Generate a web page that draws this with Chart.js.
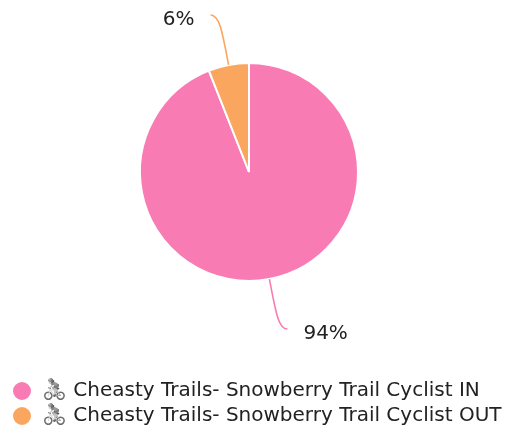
<!DOCTYPE html>
<html><head><meta charset="utf-8">
<style>html,body{margin:0;padding:0;background:#fff}#w{width:505px;height:428px;position:relative}</style>
<script src="https://cdn.jsdelivr.net/npm/chart.js@4"></script></head>
<body><div id="w"><canvas id="c"></canvas></div>
<script>
const categories = ["🚴 Cheasty Trails- Snowberry Trail Cyclist IN", "🚴 Cheasty Trails- Snowberry Trail Cyclist OUT"];
const values = [94, 6];
const pctLabels = ["94%", "6%"];
const colors = ["#F87CB3", "#FBA65E"];
const FONT = '"DejaVu Sans"';
const spacerHeight = 94;
const spacerWidth = 14;
const spacer = {
  id: 'spacer',
  beforeLayout(chart) {
    if (chart.$spacer) return;
    chart.$spacer = true;
    Chart.layouts.addBox(chart, { position: 'bottom', weight: 500, fullSize: false, options: {},
      isHorizontal: () => true,
      update(w) { this.width = w; this.height = spacerHeight; },
      draw() {} });
    Chart.layouts.addBox(chart, { position: 'right', weight: 500, fullSize: false, options: {},
      isHorizontal: () => false,
      update(w, h) { this.width = spacerWidth; this.height = h; },
      draw() {} });
  }
};
const monoEmoji = {
  id: 'monoEmoji',
  beforeDraw(chart) {
    const ctx = chart.ctx;
    if (ctx.$wrapped) return;
    ctx.$wrapped = true;
    const orig = ctx.fillText.bind(ctx);
    ctx.fillText = function (t, x, y, m) {
      const f = ctx.filter;
      if (String(t).includes('🚴')) ctx.filter = 'grayscale(1)';
      m === undefined ? orig(t, x, y) : orig(t, x, y, m);
      ctx.filter = f;
    };
  }
};
const leaders = {
  id: 'leaders',
  afterDatasetsDraw(chart) {
    const ctx = chart.ctx;
    chart.getDatasetMeta(0).data.forEach((arc, i) => {
      const mid = (arc.startAngle + arc.endAngle) / 2;
      const cx = arc.x, cy = arc.y, r = arc.outerRadius;
      const px = k => cx + Math.cos(mid) * (r + k), py = k => cy + Math.sin(mid) * (r + k);
      const sx = Math.cos(mid) >= 0 ? 1 : -1, sy = Math.sin(mid) >= 0 ? 1 : -1;
      const ex = px(0) + sx * 18, ey = py(0) + sy * 50;
      ctx.save();
      ctx.strokeStyle = colors[i];
      ctx.lineWidth = 1.6;
      ctx.beginPath();
      ctx.moveTo(px(0), py(0));
      ctx.bezierCurveTo(px(34), py(34), ex - sx * 9, ey, ex, ey);
      ctx.stroke();
      ctx.fillStyle = '#222';
      ctx.font = '20px ' + FONT;
      ctx.textBaseline = 'middle';
      ctx.textAlign = sx > 0 ? 'left' : 'right';
      ctx.fillText(pctLabels[i], ex + sx * 16, ey + 5);
      ctx.restore();
    });
  }
};
new Chart(document.getElementById('c'), {
  type: 'pie',
  data: { labels: categories, datasets: [{ data: values, backgroundColor: colors, borderColor: '#fff', borderWidth: 2 }] },
  options: {
    responsive: true, maintainAspectRatio: false, animation: false,
    layout: { padding: { top: 62, left: 7, right: 0, bottom: -8 } },
    plugins: {
      tooltip: { enabled: false },
      legend: {
        position: 'bottom', align: 'start',
        labels: { usePointStyle: true, pointStyle: 'circle', pointStyleWidth: 20, boxHeight: 14, color: '#222', padding: 5,
          font: { family: FONT, size: 20 } }
      }
    }
  },
  plugins: [spacer, monoEmoji, leaders]
});
</script></body></html>
